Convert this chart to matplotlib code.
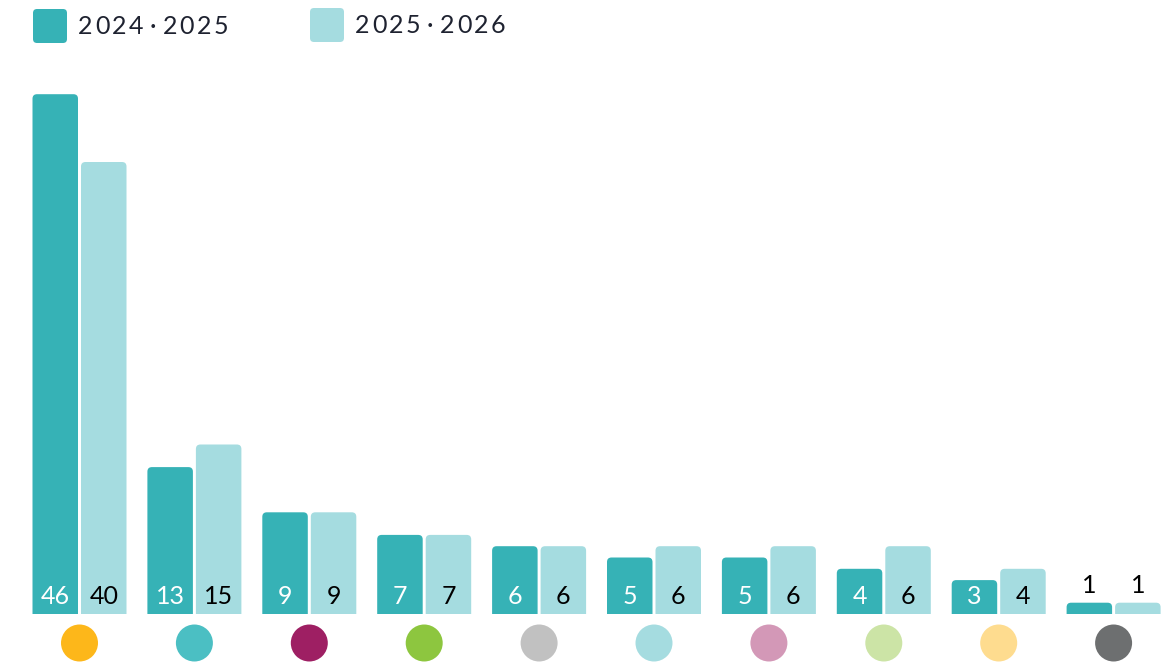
import matplotlib
matplotlib.use("Agg")
import matplotlib.pyplot as plt
from matplotlib.patches import FancyBboxPatch, Rectangle, Circle
import numpy as np

plt.rcParams['font.family'] = ['Lato', 'DejaVu Sans']

series_names = ["2024·2025", "2025·2026"]
values_2425 = [46, 13, 9, 7, 6, 5, 5, 4, 3, 1]
values_2526 = [40, 15, 9, 7, 6, 6, 6, 6, 4, 1]
dot_colors = ["#FDB71A", "#4BBFC3", "#9E1F63", "#8DC63F", "#C1C1C1",
              "#A5DCE0", "#D398B7", "#CCE4A6", "#FEDC8F", "#6D6F70"]
bar_colors = ["#36B2B6", "#A5DCE0"]

W, H = 1173, 666
fig = plt.figure(figsize=(W / 100, H / 100), dpi=100)
ax = fig.add_axes([0, 0, 1, 1])

# pixel geometry of the reference
px_group = 114.9
px_unit = 11.3
x0_px, base_px = 79.5, 614
ax.set_xlim(-x0_px / px_group, (W - x0_px) / px_group)
ax.set_ylim(-(H - base_px) / px_unit, base_px / px_unit)
ax.axis("off")

x = np.arange(len(values_2425))
bw = 45.5 / px_group
off = (45.5 + 3) / 2 / px_group

r_x = 4.5 / px_group
aspect = (4.5 / px_unit) / r_x
clip = Rectangle((-5, 0), 30, 100, transform=ax.transData)

for vals, dx, col in [(values_2425, -off, bar_colors[0]), (values_2526, off, bar_colors[1])]:
    bars = ax.bar(x + dx, vals, width=bw, color=col)
    for rect in bars:
        bx, by = rect.get_x(), rect.get_y()
        bwid, bh = rect.get_width(), rect.get_height()
        rect.remove()
        p = FancyBboxPatch((bx, by - 2), bwid, bh + 2,
                           boxstyle=f"round,pad=0,rounding_size={r_x}",
                           mutation_aspect=aspect, fc=col, ec="none")
        ax.add_patch(p)
        p.set_clip_path(clip)

for i in x:
    for vals, dx, tc in [(values_2425, -off, "white"), (values_2526, off, "black")]:
        v = vals[i]
        if v >= 3:
            ax.text(i + dx, 0.88, str(v), ha="center", va="baseline",
                    fontsize=18, color=tc)
        else:
            ax.text(i + dx, v + 0.86, str(v), ha="center", va="baseline",
                    fontsize=18, color="black")

# category dots below the bars
r_dot = 18.5
for i, c in enumerate(dot_colors):
    cx = x0_px + px_group * i
    fig.patches.append(Circle((cx, H - 643), r_dot, transform=None,
                              fc=c, ec="none"))

# legend drawn by hand (wide letter spacing)
leg = [(33, 9, 78), (310, 8, 355)]
for (sx, sy, tx), name, col in zip(leg, series_names, bar_colors):
    sq = FancyBboxPatch((sx, H - sy - 34), 34, 34,
                        boxstyle="round,pad=0,rounding_size=4",
                        transform=None, fc=col, ec="none")
    fig.patches.append(sq)
    for k, ch in enumerate(name):
        fig.text((tx + 7 + 17 * k) / W, 1 - (sy + 25) / H, ch, ha="center", va="baseline",
                 fontsize=18, color="#1E2230")

fig.savefig("out.png", dpi=100)
